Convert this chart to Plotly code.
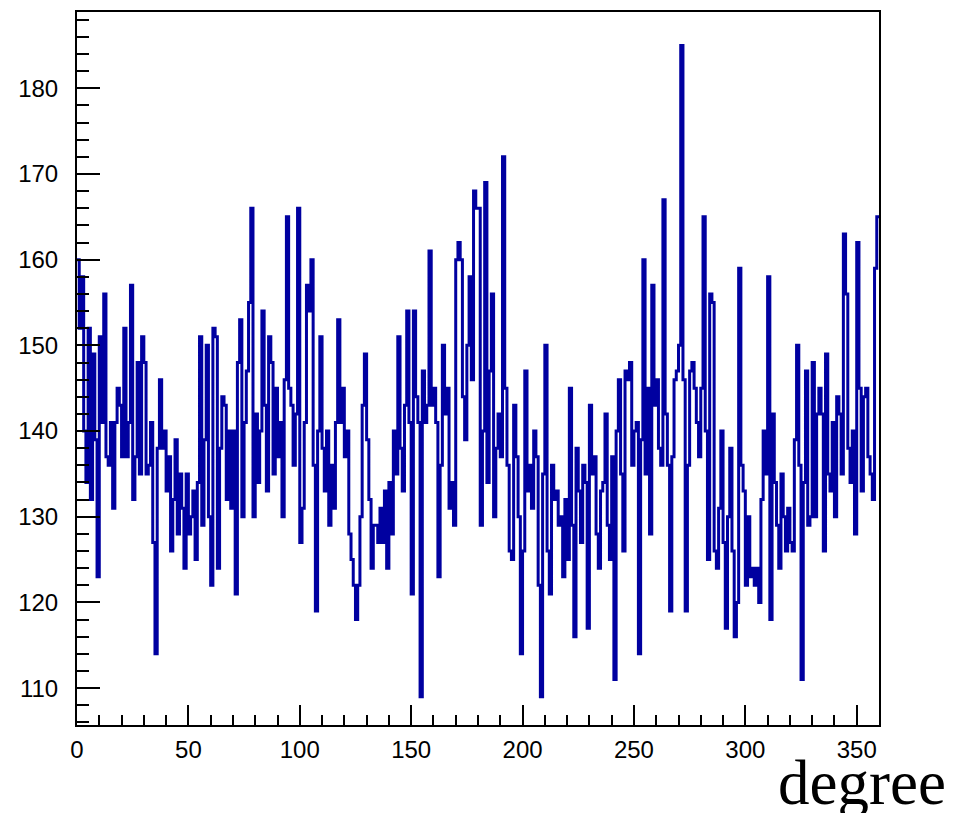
import numpy as np
import plotly.graph_objects as go

# bin lower edges (degrees), one bin per degree
bin_width = 1
counts = [
    160, 152, 158, 140, 134, 152, 132, 149, 139, 123,
    151, 141, 156, 137, 136, 141, 131, 141, 145, 143,
    137, 152, 137, 141, 157, 132, 137, 148, 135, 151,
    148, 135, 136, 141, 127, 114, 138, 146, 138, 140,
    133, 137, 126, 132, 139, 128, 135, 131, 124, 135,
    128, 130, 133, 125, 134, 151, 129, 139, 150, 130,
    122, 152, 151, 124, 138, 144, 143, 132, 140, 131,
    140, 121, 148, 153, 130, 141, 147, 155, 166, 130,
    142, 134, 140, 154, 143, 133, 151, 148, 135, 145,
    137, 141, 130, 146, 165, 145, 143, 136, 142, 166,
    127, 131, 141, 157, 154, 160, 136, 119, 140, 151,
    138, 133, 140, 129, 136, 131, 141, 153, 141, 145,
    137, 140, 128, 125, 122, 118, 122, 130, 143, 149,
    139, 132, 124, 129, 129, 127, 131, 127, 133, 124,
    134, 128, 140, 135, 151, 138, 133, 143, 154, 141,
    121, 154, 144, 141, 109, 147, 141, 143, 161, 143,
    145, 141, 123, 136, 150, 142, 145, 131, 134, 129,
    160, 162, 160, 144, 139, 150, 158, 146, 168, 166,
    166, 129, 140, 169, 134, 147, 156, 130, 138, 142,
    137, 172, 145, 136, 126, 125, 143, 137, 130, 114,
    126, 147, 133, 136, 131, 140, 137, 122, 109, 135,
    150, 126, 121, 136, 132, 133, 129, 130, 123, 132,
    125, 145, 129, 116, 138, 133, 127, 136, 134, 117,
    143, 135, 137, 128, 124, 133, 134, 142, 129, 125,
    137, 111, 140, 146, 135, 126, 147, 146, 148, 136,
    140, 141, 114, 139, 160, 135, 145, 128, 157, 143,
    146, 138, 136, 167, 142, 136, 119, 137, 146, 147,
    150, 185, 146, 119, 136, 147, 148, 145, 141, 137,
    145, 165, 140, 125, 156, 155, 126, 124, 131, 140,
    127, 117, 130, 138, 126, 116, 120, 159, 136, 133,
    122, 130, 123, 124, 122, 124, 120, 132, 140, 135,
    158, 118, 142, 134, 129, 124, 135, 130, 126, 131,
    127, 126, 139, 150, 136, 111, 134, 147, 129, 130,
    148, 130, 142, 145, 142, 126, 149, 135, 133, 141,
    130, 144, 142, 135, 163, 156, 138, 134, 140, 128,
    162, 145, 133, 144, 145, 137, 135, 132, 159, 165,
]
x_tick_vals = [0, 50, 100, 150, 200, 250, 300, 350]
y_tick_vals = [110, 120, 130, 140, 150, 160, 170, 180]
x_title = "degree"

edges = np.arange(len(counts) + 1) * bin_width
y_step = list(counts) + [counts[-1]]

fig = go.Figure()
fig.add_trace(go.Scatter(
    x=edges, y=y_step, mode="lines", line_shape="hv",
    line=dict(color="#0000a0", width=3), hoverinfo="skip", showlegend=False,
))

axis_font = dict(family="Liberation Sans, Arial, sans-serif", size=24, color="black")
fig.update_layout(
    width=971, height=813,
    margin=dict(l=69, r=100, t=4, b=96, autoexpand=False),
    paper_bgcolor="white", plot_bgcolor="white",
    xaxis=dict(
        range=[0, 360], tickvals=x_tick_vals, ticks="inside", ticklen=20,
        tickwidth=2, tickcolor="black", showgrid=False, zeroline=False,
        showline=True, linecolor="black", linewidth=2, mirror=True,
        tickfont=axis_font, ticklabelstandoff=2,
        minor=dict(dtick=10, tick0=0, ticks="inside", ticklen=10, tickwidth=2,
                   tickcolor="black", showgrid=False),
    ),
    yaxis=dict(
        range=[105.7, 188.9], tickvals=y_tick_vals, ticks="inside", ticklen=23,
        tickwidth=2, tickcolor="black", showgrid=False, zeroline=False,
        showline=True, linecolor="black", linewidth=2, mirror=True,
        tickfont=axis_font, ticklabelstandoff=12,
        minor=dict(dtick=2, tick0=0, ticks="inside", ticklen=12, tickwidth=2,
                   tickcolor="black", showgrid=False),
    ),
    annotations=[dict(
        text=x_title, xref="paper", yref="paper", x=1.086, y=-0.082,
        xanchor="right", yanchor="middle", showarrow=False,
        font=dict(family="Liberation Serif, Times New Roman, serif", size=63, color="black"),
    )],
)

fig.write_html("out.html")
